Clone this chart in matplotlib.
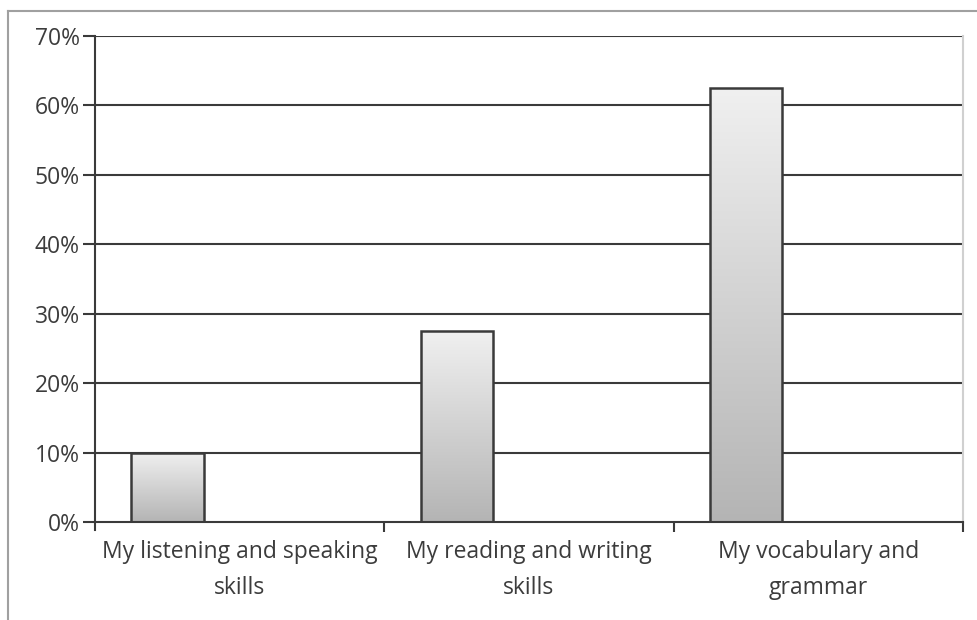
import numpy as np
import matplotlib
matplotlib.use("Agg")
import matplotlib.pyplot as plt
from matplotlib.lines import Line2D
from matplotlib.colors import LinearSegmentedColormap

categories = ["My listening and speaking\nskills", "My reading and writing\nskills", "My vocabulary and\ngrammar"]
values = [10.0, 27.5, 62.5]
yticks = [0, 10, 20, 30, 40, 50, 60, 70]
ytick_labels = ["0%", "10%", "20%", "30%", "40%", "50%", "60%", "70%"]

plt.rcParams['font.family'] = ['Open Sans', 'DejaVu Sans']

fig = plt.figure(figsize=(9.77, 6.2), dpi=100)
ax = fig.add_axes([95/977, 1-522/620, (963-95)/977, (522-36)/620])

x = np.arange(len(categories))
offset = -0.25
width = 0.25
ax.set_xlim(-0.5, len(categories) - 0.5)
ax.set_ylim(0, 70)

for yv in yticks[1:]:
    ax.axhline(yv, color='#3a3a3a', lw=1.5, zorder=1)

grad = np.linspace(0, 1, 256).reshape(-1, 1)
cmap = LinearSegmentedColormap.from_list('g', ['#b4b4b4', '#f0f0f0'])
bars = ax.bar(x + offset, values, width=width, facecolor='none', edgecolor='#3a3a3a', lw=1.8, zorder=3)
for b in bars:
    x0, y0 = b.get_x(), b.get_y()
    w, h = b.get_width(), b.get_height()
    im = ax.imshow(grad, extent=[x0, x0 + w, y0, y0 + h], origin='lower', cmap=cmap,
                   aspect='auto', zorder=2, interpolation='bilinear')
    im.set_clip_path(b)

ax.set_yticks(yticks)
ax.set_yticklabels(ytick_labels, fontsize=16.5, color='#3c3c3c')
ax.tick_params(axis='y', length=9, width=1.5, color='#3a3a3a', pad=2)

ax.set_xticks([0.5, 1.5, 2.5])
ax.set_xticklabels([])
ax.set_xticks(x, minor=True)
ax.set_xticklabels(categories, minor=True, fontsize=16.5, color='#3c3c3c', linespacing=1.65)
ax.tick_params(axis='x', which='major', length=7.5, width=1.5, color='#3a3a3a')
ax.tick_params(axis='x', which='minor', length=0, pad=13)

ax.spines['top'].set_visible(False)
ax.spines['right'].set_color('#d0d0d0')
ax.spines['right'].set_linewidth(1.5)
for s in ['left', 'bottom']:
    ax.spines[s].set_color('#3a3a3a')
    ax.spines[s].set_linewidth(1.5)
ax.spines['left'].set_bounds(-1.2, 70)
ax.spines['left'].set_zorder(4)

# figure frame (top and left visible)
fig.add_artist(Line2D([8/977, 1], [1-11/620, 1-11/620], color='#a0a0a0', lw=1.5, transform=fig.transFigure))
fig.add_artist(Line2D([8/977, 8/977], [0, 1-11/620], color='#a0a0a0', lw=1.5, transform=fig.transFigure))

fig.savefig('out.png', dpi=100)
